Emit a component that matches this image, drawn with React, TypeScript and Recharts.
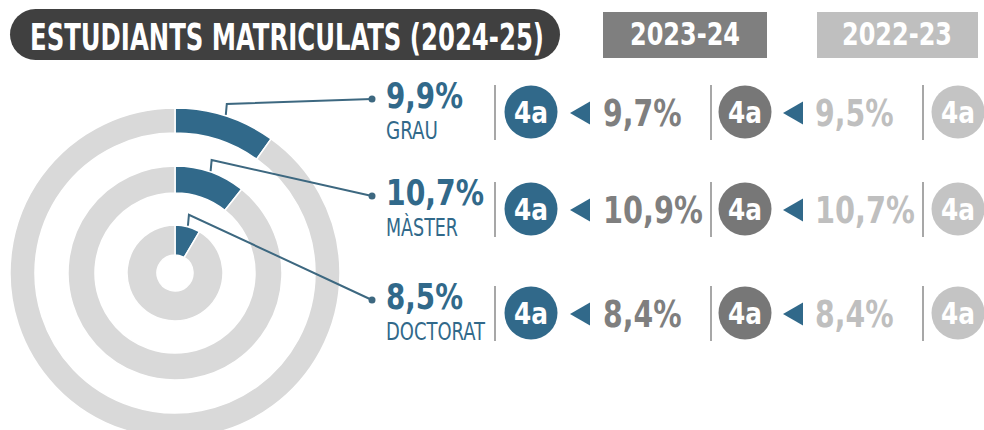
import React from 'react';
import { PieChart, Pie, Cell } from 'recharts';

const title = 'ESTUDIANTS MATRICULATS (2024-25)';
const yearLabels = ['2023-24', '2022-23'];
const categories = ['GRAU', 'MÀSTER', 'DOCTORAT'];
const current = [9.9, 10.7, 8.5];
const prev1 = [9.7, 10.9, 8.4];
const prev2 = [9.5, 10.7, 8.4];
const rankCurrent = ['4a', '4a', '4a'];
const rankPrev1 = ['4a', '4a', '4a'];
const rankPrev2 = ['4a', '4a', '4a'];

const BLUE = '#31698a';
const LINE = '#3d6880';
const RING = '#d9d9d9';
const DARK = '#404040';
const GREY = '#7f7f7f';
const LIGHT = '#bfbfbf';
const FONT = "'Liberation Sans Narrow', 'DejaVu Sans Condensed', Roboto, sans-serif";
const STRETCH = 1.25;

const rings = [
  { inner: 140, outer: 165 },
  { inner: 80, outer: 107 },
  { inner: 18, outer: 48 },
];
const rowY = [112, 209, 313];
const CX = 175;
const CY = 273;
const DOT_X = 372;

const fmt = (v: number) => v.toFixed(1).replace('.', ',') + '%';
const numWidth = (s: string) =>
  [...s].reduce((w, c) => w + (c === ',' ? 9 : c === '%' ? 26 : 21), 0);

// condensed-looking text: smaller font, stretched vertically, width fixed
const T = ({
  x,
  y,
  size,
  width,
  fill,
  bold = true,
  anchor = 'start',
  children,
}: {
  x: number;
  y: number;
  size: number;
  width: number;
  fill: string;
  bold?: boolean;
  anchor?: 'start' | 'middle';
  children: string;
}) => (
  <text
    transform={`translate(${x},${y}) scale(1,${STRETCH})`}
    x={0}
    y={0}
    textAnchor={anchor}
    fill={fill}
    fontSize={size / STRETCH}
    fontWeight={bold ? 700 : 400}
    fontFamily={FONT}
    textLength={width}
    lengthAdjust="spacingAndGlyphs"
  >
    {children}
  </text>
);

const makeLeader = (row: number) => (p: any) => {
  if (p.index !== 0) return null;
  const RAD = Math.PI / 180;
  const sx = p.cx + (p.outerRadius + 1) * Math.cos(-p.midAngle * RAD);
  const sy = p.cy + (p.outerRadius + 1) * Math.sin(-p.midAngle * RAD);
  const ey = rowY[row] - 13;
  return (
    <g>
      <polyline
        points={`${sx},${sy} ${sx + 1},${sy - 11} ${DOT_X},${ey}`}
        fill="none"
        stroke={LINE}
        strokeWidth={2}
      />
      <circle cx={DOT_X} cy={ey} r={3.5} fill={LINE} />
    </g>
  );
};

const Badge = ({ x, y, fill, text }: { x: number; y: number; fill: string; text: string }) => (
  <g>
    <circle cx={x} cy={y} r={26.5} fill={fill} />
    <T x={x} y={y + 11} size={31} width={34} fill="#fff" anchor="middle">
      {text}
    </T>
  </g>
);

const Arrow = ({ x, y }: { x: number; y: number }) => (
  <polygon points={`${x},${y} ${x + 20},${y - 11.5} ${x + 20},${y + 11.5}`} fill={BLUE} />
);

const Sep = ({ x, y }: { x: number; y: number }) => (
  <line x1={x} x2={x} y1={y - 27} y2={y + 28} stroke="#8a8a8a" strokeWidth={1.5} />
);

const Rows = () => (
  <g>
    {categories.map((cat, i) => {
      const y = rowY[i];
      const big = fmt(current[i]);
      const p1 = fmt(prev1[i]);
      const p2 = fmt(prev2[i]);
      return (
        <g key={cat}>
          <T x={386} y={y - 4} size={35} width={numWidth(big)} fill={BLUE}>
            {big}
          </T>
          <T x={386} y={y + 27} size={24} width={[52, 72, 99][i]} fill={BLUE} bold={false}>
            {cat}
          </T>
          <Sep x={495} y={y} />
          <Badge x={531} y={y} fill={BLUE} text={rankCurrent[i]} />
          <Arrow x={570} y={y + 1} />
          <T x={603} y={y + 14} size={38} width={numWidth(p1) * 1.02} fill={GREY}>
            {p1}
          </T>
          <Sep x={711} y={y} />
          <Badge x={745} y={y} fill="#777777" text={rankPrev1[i]} />
          <Arrow x={783} y={y + 1} />
          <T x={815} y={y + 14} size={38} width={numWidth(p2) * 1.02} fill={LIGHT}>
            {p2}
          </T>
          <Sep x={923} y={y} />
          <Badge x={958} y={y} fill="#c4c4c4" text={rankPrev2[i]} />
        </g>
      );
    })}
  </g>
);

const Header = () => (
  <g>
    <rect x={10} y={9} width={550} height={51} rx={25.5} fill={DARK} />
    <T x={30} y={50} size={38} width={514} fill="#fff">
      {title}
    </T>
    <rect x={603} y={12} width={164} height={46} fill={GREY} />
    <T x={685} y={45} size={32} width={110} fill="#fff" anchor="middle">
      {yearLabels[0]}
    </T>
    <rect x={817} y={12} width={161} height={46} fill={LIGHT} />
    <T x={897} y={45} size={32} width={110} fill="#fff" anchor="middle">
      {yearLabels[1]}
    </T>
  </g>
);

export default function App() {
  return (
    <div
      style={{
        position: 'absolute',
        left: 0,
        top: 0,
        width: 984,
        height: 430,
        background: '#fff',
        overflow: 'hidden',
      }}
    >
      <div style={{ position: 'absolute', left: 0, top: 0 }}>
        <PieChart width={984} height={430} margin={{ top: 0, right: 0, bottom: 0, left: 0 }}>
          {categories.map((cat, i) => (
            <Pie
              key={cat}
              data={[
                { name: cat, value: current[i] },
                { name: 'resta', value: 100 - current[i] },
              ]}
              dataKey="value"
              cx={CX}
              cy={CY}
              innerRadius={rings[i].inner}
              outerRadius={rings[i].outer}
              startAngle={90}
              endAngle={-270}
              stroke="#fff"
              strokeWidth={1.5}
              label={makeLeader(i)}
              labelLine={false}
              isAnimationActive={false}
            >
              <Cell fill={BLUE} />
              <Cell fill={RING} />
            </Pie>
          ))}
        </PieChart>
      </div>
      <svg width={984} height={430} style={{ position: 'absolute', left: 0, top: 0 }}>
        <Header />
        <Rows />
      </svg>
    </div>
  );
}
